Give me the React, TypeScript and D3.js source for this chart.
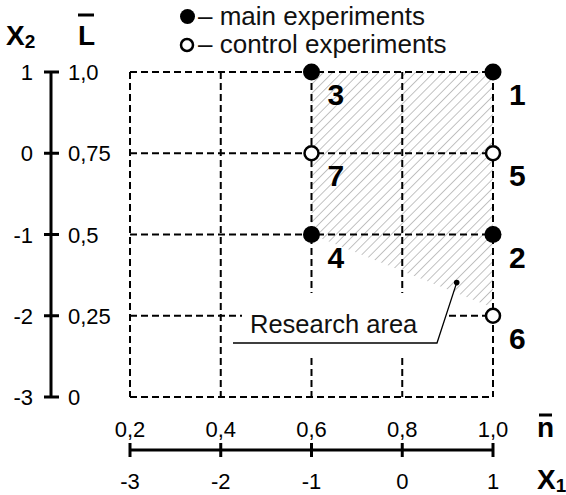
import React, { useEffect, useRef } from 'react';
import * as d3 from 'd3';

// normalized factor levels (n̄ on x, L̄ on y) and coded levels X1/X2
const nTicks = [0.2, 0.4, 0.6, 0.8, 1.0];
const x1Ticks = [-3, -2, -1, 0, 1];
const lTicks = [0, 0.25, 0.5, 0.75, 1.0];
const x2Ticks = [-3, -2, -1, 0, 1];

const fmt = (v: number) => (v === 0 ? '0' : v === 1 ? '1,0' : String(v).replace('.', ','));

// experiment points: [n̄, L̄, id, main?]
const points: [number, number, string, boolean][] = [
  [1.0, 1.0, '1', true],
  [1.0, 0.5, '2', true],
  [0.6, 1.0, '3', true],
  [0.6, 0.5, '4', true],
  [1.0, 0.75, '5', false],
  [1.0, 0.25, '6', false],
  [0.6, 0.75, '7', false],
];

// research area polygon in (n̄, L̄)
const researchArea: [number, number][] = [
  [0.6, 1.0],
  [1.0, 1.0],
  [1.0, 0.275],
  [0.6, 0.5],
];
const areaPointer: [number, number] = [0.92, 0.352];

const W = 566;
const H = 495;
const FONT = '"Liberation Sans", Arial, sans-serif';

const App: React.FC = () => {
  const svgRef = useRef<SVGSVGElement>(null);

  useEffect(() => {
    document.body.style.margin = '0';
    document.body.style.overflow = 'hidden';
    if (!svgRef.current) return;
    const svg = d3.select(svgRef.current);
    svg.selectAll('*').remove();

    const x = d3.scaleLinear().domain([0.2, 1.0]).range([130, 493]);
    const xCoded = d3.scaleLinear().domain([-3, 1]).range([130, 493]);
    const y = d3.scaleLinear().domain([0, 1]).range([397, 72]);
    const yCoded = d3.scaleLinear().domain([-3, 1]).range([397, 72]);

    const defs = svg.append('defs');
    const pat = defs.append('pattern')
      .attr('id', 'hatch')
      .attr('patternUnits', 'userSpaceOnUse')
      .attr('width', 6.5)
      .attr('height', 6.5)
      .attr('patternTransform', 'rotate(45)');
    pat.append('line')
      .attr('x1', 0).attr('y1', 0).attr('x2', 0).attr('y2', 6.5)
      .attr('stroke', '#a2a2a2').attr('stroke-width', 1.3);

    // hatched research area
    svg.append('path')
      .attr('d', d3.line<[number, number]>().x(d => x(d[0])).y(d => y(d[1]))(researchArea) + 'Z')
      .attr('fill', 'url(#hatch)');

    // dashed grid
    const grid = svg.append('g')
      .attr('stroke', '#000')
      .attr('stroke-width', 2)
      .attr('stroke-dasharray', '7,4');
    nTicks.forEach(v => {
      grid.append('line').attr('x1', x(v)).attr('x2', x(v)).attr('y1', y(1)).attr('y2', y(0));
    });
    lTicks.forEach(v => {
      grid.append('line').attr('x1', x(0.2)).attr('x2', x(1.0)).attr('y1', y(v)).attr('y2', y(v));
    });

    // label box for research area (covers grid)
    svg.append('rect')
      .attr('x', 242).attr('y', 293).attr('width', 203).attr('height', 64)
      .attr('fill', '#fff');
    svg.append('text')
      .attr('x', 250).attr('y', 333)
      .attr('font-family', FONT).attr('font-size', 25.5)
      .attr('fill', '#111')
      .text('Research area');
    const px = x(areaPointer[0]);
    const py = y(areaPointer[1]);
    svg.append('polyline')
      .attr('points', `${px},${py} ${437},${343} ${233},${343}`)
      .attr('fill', 'none').attr('stroke', '#000').attr('stroke-width', 1.3);
    svg.append('circle').attr('cx', px).attr('cy', py).attr('r', 2.8).attr('fill', '#000');

    // experiment points
    const pg = svg.append('g');
    points.forEach(([n, l, id, main]) => {
      pg.append('circle')
        .attr('cx', x(n)).attr('cy', y(l))
        .attr('r', main ? 8.5 : 7)
        .attr('fill', main ? '#000' : '#fff')
        .attr('stroke', '#000')
        .attr('stroke-width', main ? 0 : 2.5);
      pg.append('text')
        .attr('x', x(n) + 16)
        .attr('y', y(l) + 33)
        .attr('font-family', FONT).attr('font-size', 30).attr('font-weight', 'bold')
        .text(id);
    });

    // left axis
    const ax = 51;
    svg.append('line').attr('x1', ax).attr('x2', ax).attr('y1', y(0)).attr('y2', y(1))
      .attr('stroke', '#000').attr('stroke-width', 3);
    lTicks.forEach((v, i) => {
      svg.append('line').attr('x1', ax - 7).attr('x2', ax + 8).attr('y1', y(v)).attr('y2', y(v))
        .attr('stroke', '#000').attr('stroke-width', 3);
      svg.append('text')
        .attr('x', 68).attr('y', y(v) + 8)
        .attr('font-family', FONT).attr('font-size', 22)
        .text(fmt(v));
      svg.append('text')
        .attr('x', 33).attr('y', yCoded(x2Ticks[i]) + 8)
        .attr('text-anchor', 'end')
        .attr('font-family', FONT).attr('font-size', 22)
        .text(String(x2Ticks[i]));
    });

    // bottom axis
    const ay = 450;
    svg.append('line').attr('x1', x(0.2)).attr('x2', x(1.0)).attr('y1', ay).attr('y2', ay)
      .attr('stroke', '#000').attr('stroke-width', 3);
    nTicks.forEach((v, i) => {
      svg.append('line').attr('x1', x(v)).attr('x2', x(v)).attr('y1', ay - 7).attr('y2', ay + 7)
        .attr('stroke', '#000').attr('stroke-width', 3);
      svg.append('text')
        .attr('x', x(v)).attr('y', 437)
        .attr('text-anchor', 'middle')
        .attr('font-family', FONT).attr('font-size', 22)
        .text(fmt(v));
      svg.append('text')
        .attr('x', xCoded(x1Ticks[i])).attr('y', 489)
        .attr('text-anchor', 'middle')
        .attr('font-family', FONT).attr('font-size', 22)
        .text(String(x1Ticks[i]));
    });

    // axis titles
    const title = (tx: number, ty: number, main: string, sub?: string) => {
      const t = svg.append('text')
        .attr('x', tx).attr('y', ty)
        .attr('font-family', FONT).attr('font-size', 28).attr('font-weight', 'bold')
        .text(main);
      if (sub) {
        t.append('tspan').attr('font-size', 19).attr('dy', 3).text(sub);
      }
    };
    title(6, 45, 'X', '2');
    title(78, 45, 'L');
    svg.append('line').attr('x1', 78).attr('x2', 94).attr('y1', 15).attr('y2', 15)
      .attr('stroke', '#000').attr('stroke-width', 3);
    title(537, 437, 'n');
    svg.append('line').attr('x1', 539).attr('x2', 552).attr('y1', 415).attr('y2', 415)
      .attr('stroke', '#000').attr('stroke-width', 3);
    title(537, 489, 'X', '1');

    // legend
    const lg = svg.append('g').attr('font-family', FONT).attr('font-size', 26).attr('fill', '#111');
    lg.append('circle').attr('cx', 187.5).attr('cy', 16.5).attr('r', 7.5).attr('fill', '#000');
    lg.append('text').attr('x', 198).attr('y', 25).text('– main experiments');
    lg.append('circle').attr('cx', 187).attr('cy', 45).attr('r', 6).attr('fill', '#fff')
      .attr('stroke', '#000').attr('stroke-width', 2.5);
    lg.append('text').attr('x', 198).attr('y', 53).text('– control experiments');
  }, []);

  return (
    <div style={{ width: W, height: H, background: '#fff' }}>
      <svg ref={svgRef} width={W} height={H} style={{ display: 'block' }} />
    </div>
  );
};

export default App;
